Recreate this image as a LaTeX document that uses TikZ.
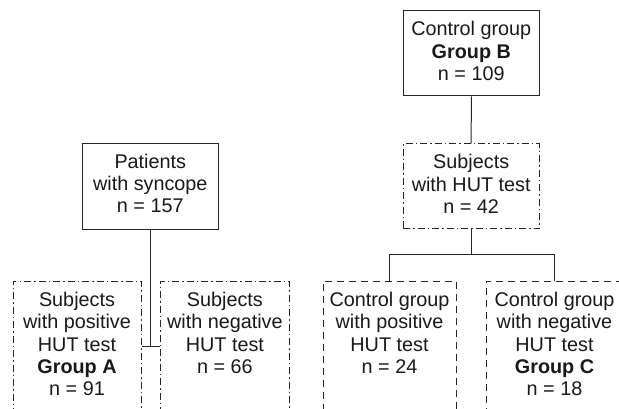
\documentclass[tikz,border=0pt]{standalone}
\usepackage{fontspec}
\setmainfont{Liberation Sans}
\tikzset{
  box/.style={draw=black!85, line width=1pt, inner sep=0pt, rectangle},
  solidbox/.style={box},
  dotdashbox/.style={box, dash pattern=on 7pt off 3pt on 1.5pt off 3pt},
  dashbox/.style={box, dash pattern=on 7pt off 5pt},
  txt/.style={anchor=base, inner sep=0pt, text=black!90, font=\fontsize{19.8}{22.4}\selectfont},
  link/.style={draw=black!85, line width=1pt},
}
\newcommand{\lines}[1]{\begin{tabular}[t]{@{}c@{}}#1\end{tabular}}
\begin{document}
\begin{tikzpicture}[x=1pt, y=-1pt]
\clip (0,0) rectangle (619,409);
% boxes
\node[solidbox, minimum width=136pt, minimum height=85.7pt] (P) at (150.3,186.2) {};
\node[solidbox, minimum width=136pt, minimum height=85pt] (B) at (471.3,53.5) {};
\node[dotdashbox, minimum width=136.3pt, minimum height=85pt] (H) at (471.2,186.5) {};
\node[dotdashbox, minimum width=128pt, minimum height=139pt] (A) at (77,350.5) {};
\node[dotdashbox, minimum width=128.3pt, minimum height=139pt] (N) at (224.9,350.5) {};
\node[dashbox, minimum width=133pt, minimum height=139pt] (CP) at (389.5,350.5) {};
\node[dashbox, minimum width=137pt, minimum height=139pt] (CN) at (554.5,350.5) {};
% texts
\node[txt] (tP) at ([yshift=-25.3pt]P.north) {\lines{Patients\\with syncope\\n = 157}};
\node[txt] (tB) at ([yshift=-25.3pt]B.north) {\lines{Control group\\\textbf{Group B}\\n = 109}};
\node[txt] (tH) at ([yshift=-25.3pt]H.north) {\lines{Subjects\\with HUT test\\n = 42}};
\node[txt] (tA) at ([yshift=-25.7pt]A.north) {\lines{Subjects\\with positive\\HUT test\\\textbf{Group A}\\n = 91}};
\node[txt] (tN) at ([yshift=-25.7pt]N.north) {\lines{Subjects\\with negative\\HUT test\\n = 66}};
\node[txt] (tCP) at ([yshift=-25.7pt]CP.north) {\lines{Control group\\with positive\\HUT test\\n = 24}};
\node[txt] (tCN) at ([yshift=-25.7pt]CN.north) {\lines{Control group\\with negative\\HUT test\\\textbf{Group C}\\n = 18}};
% connectors
\coordinate (j1) at ([yshift=-116.7pt]P.south);
\draw[link] (P.south) -- (j1);
\draw[link] (A.east |- j1) -- (N.west |- j1);
\draw[link] (B.south) -- (H.north);
\coordinate (j2) at ([yshift=-25pt]H.south);
\draw[link] (H.south) -- (j2);
\draw[link] (CP.north) -- (CP.north |- j2) -- (CN.north |- j2) -- (CN.north);
\end{tikzpicture}
\end{document}
